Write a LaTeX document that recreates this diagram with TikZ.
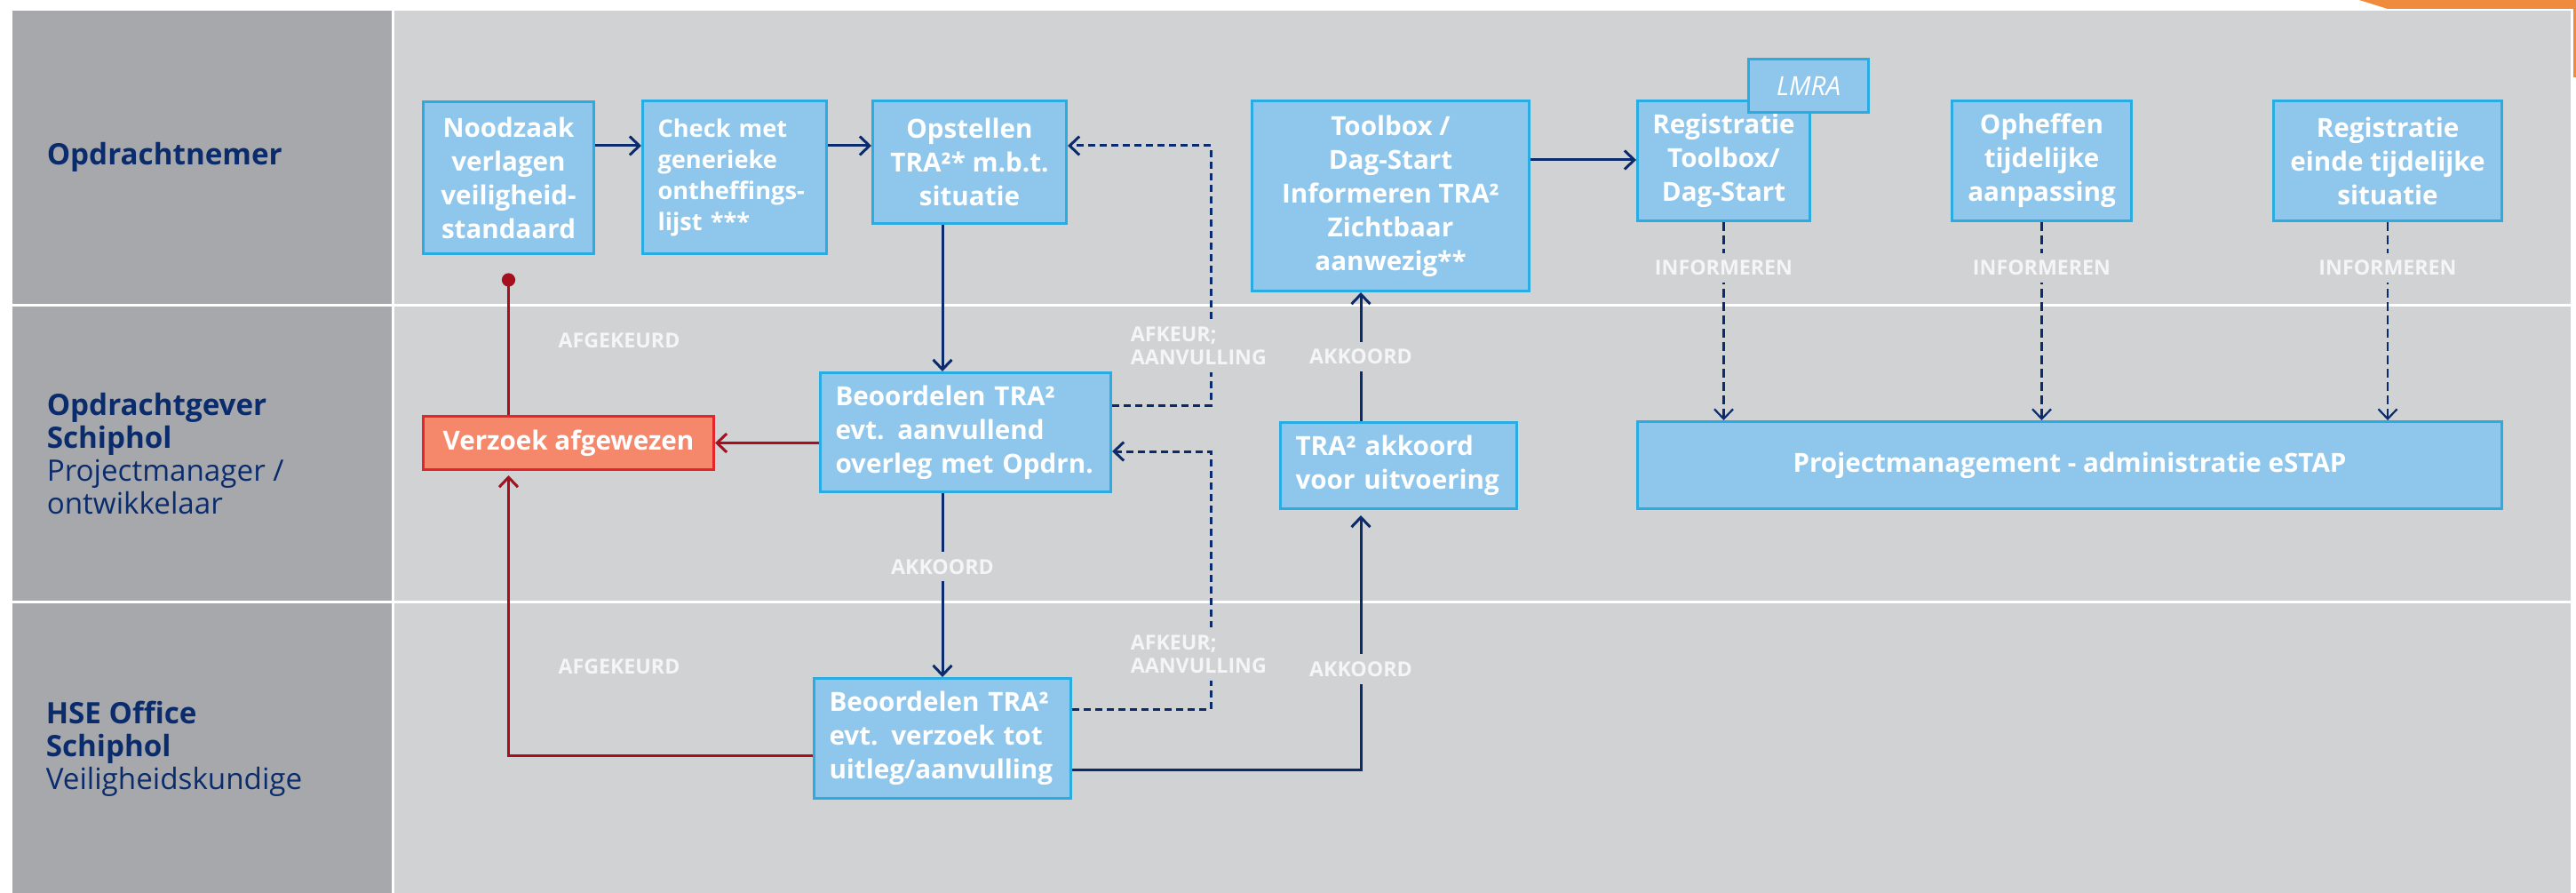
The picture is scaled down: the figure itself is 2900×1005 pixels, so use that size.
\documentclass[tikz,border=0pt]{standalone}
\usepackage{fontspec}
\setmainfont{Open Sans}
\usetikzlibrary{arrows.meta}
\newlength\px
\setlength\px{0.25pt}
\definecolor{lanegray}{HTML}{A7A8AC}
\definecolor{fieldgray}{HTML}{D1D2D4}
\definecolor{navy}{HTML}{0B2C6C}
\definecolor{boxfill}{HTML}{8EC6EC}
\definecolor{boxline}{HTML}{2AABE2}
\definecolor{rejfill}{HTML}{F5886B}
\definecolor{rejline}{HTML}{E4262C}
\definecolor{darkred}{HTML}{A60F1E}
\definecolor{tab}{HTML}{F08A3D}
\definecolor{lbltext}{HTML}{F5F5F5}
\tikzset{
stepbox/.style={draw=boxline,fill=boxfill,line width=0.75pt,text=white,
  inner sep=0pt,anchor=north west,align=center,
  font=\fontsize{7.4}{9.5}\selectfont\bfseries},
leftbox/.style={stepbox,align=left,inner xsep=4.25pt},
rejbox/.style={stepbox,draw=rejline,fill=rejfill},
flow/.style={draw=navy,line width=0.75pt,
  -{Straight Barb[length=2.75pt,width=5.25pt]}},
back/.style={flow,dash pattern=on 2pt off 1.25pt},
inform/.style={flow,line width=0.55pt,dash pattern=on 2.5pt off 1.25pt},
reject/.style={flow,draw=darkred},
lbl/.style={fill=fieldgray,text=lbltext,inner sep=2pt,
  font=\fontsize{5.8}{6.6}\selectfont\bfseries},
lane/.style={anchor=west,align=left,text=navy,inner sep=0pt,
  font=\fontsize{8.3}{9.25}\selectfont}
}
\begin{document}
\begin{tikzpicture}[x=0.25pt,y=-0.25pt]
\useasboundingbox (0,0) rectangle (2900,1005);
\fill[white] (0,0) rectangle (2900,1005);
\fill[tab] (2656,0) -- (2900,0) -- (2900,87) -- (2897,87) -- (2897,10) -- (2688,10) -- cycle;
\foreach \t/\b in {12/342,345/676,679/1005}{
  \fill[lanegray] (14,\t) rectangle (441,\b);
  \fill[fieldgray] (444,\t) rectangle (2894,\b);
}

\node[lane] (nemer) at (52,177) {\textbf{Opdrachtnemer}};
\node[lane] (gever) at (52,511) {\textbf{Opdrachtgever}\\\textbf{Schiphol}\\Projectmanager /\\ontwikkelaar};
\node[lane] (hse) at (51,843) {\textbf{HSE Office}\\\textbf{Schiphol}\\Veiligheidskundige};

\node[stepbox,minimum width=192\px,minimum height=171\px] (nood) at (475,113)
  {Noodzaak\\verlagen\\veiligheid-\\standaard};
\node[leftbox,minimum width=207\px,minimum height=172\px,text width=173\px,
  font=\fontsize{6.8}{8.75}\selectfont\bfseries] (check) at (722,112)
  {Check met\\generieke\\ontheffings-\\lijst ***};
\node[stepbox,minimum width=218\px,minimum height=138\px] (opst) at (981,112)
  {Opstellen\\TRA²* m.b.t.\\situatie};
\node[stepbox,minimum width=312\px,minimum height=214\px] (tool) at (1408,112)
  {Toolbox /\\Dag-Start\\Informeren TRA²\\Zichtbaar\\aanwezig**};
\node[stepbox,minimum width=194\px,minimum height=135\px] (reg) at (1842,112)
  {Registratie\\Toolbox/\\Dag-Start};
\node[stepbox,minimum width=135\px,minimum height=60\px,font=\fontsize{7.4}{9.5}\selectfont\itshape] (lmra) at (1967,65) {LMRA};
\node[stepbox,minimum width=202\px,minimum height=135\px] (oph) at (2196,112)
  {Opheffen\\tijdelijke\\aanpassing};
\node[stepbox,minimum width=257\px,minimum height=135\px] (einde) at (2558,112)
  {Registratie\\einde tijdelijke\\situatie};
\node[leftbox,minimum width=327\px,minimum height=134\px,text width=293\px] (beo1) at (922,418)
  {Beoordelen TRA²\\evt. aanvullend\\overleg met Opdrn.};
\node[rejbox,minimum width=327\px,minimum height=60\px] (afgew) at (475,467)
  {Verzoek afgewezen};
\node[leftbox,minimum width=266\px,minimum height=97\px,text width=232\px] (akk) at (1440,474)
  {TRA² akkoord\\voor uitvoering};
\node[stepbox,minimum width=973\px,minimum height=98\px] (pm) at (1842,473)
  {Projectmanagement - administratie eSTAP};
\node[leftbox,minimum width=289\px,minimum height=135\px,text width=255\px] (beo2) at (915,762)
  {Beoordelen TRA²\\evt. verzoek tot\\uitleg/aanvulling};

\coordinate (r1) at (0,164);
\coordinate (fb) at (1363,0);
\coordinate (ok) at (1532,0);
\coordinate (dot) at ([yshift=-7pt]nood.south);

\draw[flow] (nood.east |- r1) -- (check.west |- r1);
\draw[flow] (check.east |- r1) -- (opst.west |- r1);
\draw[flow] (opst.south -| beo2.north) -- (beo1.north -| beo2.north);
\draw[flow] (beo1.south -| beo2.north) -- node[lbl,pos=.4] {AKKOORD} (beo2.north);
\draw[back] (beo1.east |- 0,456) -| (fb |- r1) -- (opst.east |- r1);
\draw[back] (beo2.east |- 0,798) -| (fb |- 0,508) -- (beo1.east |- 0,508);
\node[lbl,anchor=west,align=left] at (1264,389) {AFKEUR;\\AANVULLING};
\node[lbl,anchor=west,align=left] at (1264,736) {AFKEUR;\\AANVULLING};
\draw[flow] (beo2.east |- 0,866) -| ([yshift=-1.5pt]akk.south -| ok);
\node[lbl] at (ok |- 0,753) {AKKOORD};
\draw[flow] (akk.north -| ok) -- node[lbl,pos=.5] {AKKOORD} (tool.south -| ok);
\draw[flow] (tool.east |- 0,180) -- (reg.west |- 0,180);
\foreach \b in {reg,oph,einde}
  \draw[inform] (\b.south) -- node[lbl,pos=.23] {INFORMEREN} (pm.north -| \b.south);

\draw[reject,-] (afgew.north -| dot) -- (dot);
\fill[darkred] (dot) circle (1.9pt);
\draw[reject] (beo1.west |- afgew.east) -- (afgew.east);
\draw[reject] (beo2.west |- 0,850) -| ([yshift=-1.25pt]afgew.south -| dot);
\node[lbl] at (697,383) {AFGEKEURD};
\node[lbl] at (697,750) {AFGEKEURD};
\end{tikzpicture}
\end{document}
